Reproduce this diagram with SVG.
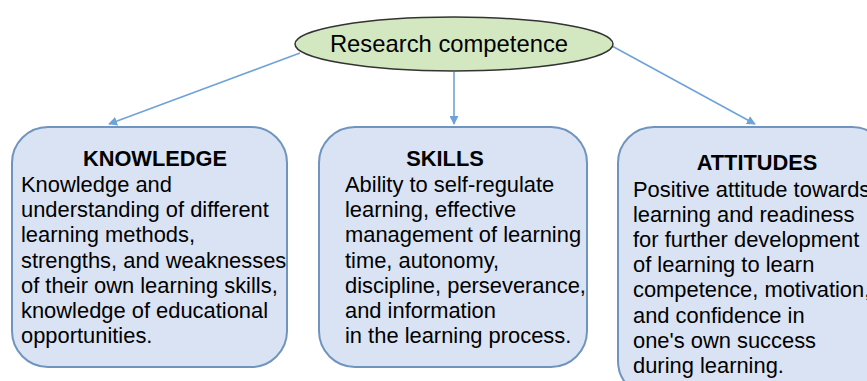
<svg xmlns="http://www.w3.org/2000/svg" width="867" height="381" viewBox="0 0 867 381">
<defs>
<marker id="ah" viewBox="0 0 10 10" refX="9" refY="5" markerWidth="9" markerHeight="9" markerUnits="userSpaceOnUse" orient="auto">
<path d="M0,0 L10,5 L0,10 z" fill="#6fa3d8"/>
</marker>
</defs>
<style>
.box{fill:#dae3f3;stroke:#6f94be;stroke-width:2}
.ell{fill:#d3e8c0;stroke:#333;stroke-width:1.5}
.con{stroke:#6fa3d8;stroke-width:1.6;fill:none;marker-end:url(#ah)}
.hd{font-family:"Liberation Sans",Arial,sans-serif;font-weight:bold;font-size:21.8px;fill:#000;text-anchor:middle}
.bd{font-family:"Liberation Sans",Arial,sans-serif;font-size:21.9px;fill:#000}
.tt{font-family:"Liberation Sans",Arial,sans-serif;font-size:23.8px;fill:#000;text-anchor:middle}
</style>
<rect width="867" height="381" fill="#fff"/>
<g id="connectors">
<line class="con" x1="300" y1="53" x2="109" y2="124"/>
<line class="con" x1="454" y1="72" x2="454" y2="124"/>
<line class="con" x1="612" y1="46" x2="755" y2="124"/>
</g>
<g id="root">
<ellipse class="ell" cx="454" cy="44" rx="159" ry="27"/>
<text class="tt" x="449" y="52">Research competence</text>
</g>
<g id="knowledge">
<rect class="box" x="12" y="127" width="275" height="240" rx="36"/>
<text class="hd" x="155" y="166">KNOWLEDGE</text>
<text class="bd" x="21" y="192">Knowledge and</text>
<text class="bd" x="21" y="217.2">understanding of different</text>
<text class="bd" x="21" y="242.4">learning methods,</text>
<text class="bd" x="21" y="267.6">strengths, and weaknesses</text>
<text class="bd" x="21" y="292.8">of their own learning skills,</text>
<text class="bd" x="21" y="318">knowledge of educational</text>
<text class="bd" x="21" y="343">opportunities.</text>
</g>
<g id="skills">
<rect class="box" x="319" y="127" width="268" height="240" rx="36"/>
<text class="hd" x="445" y="166">SKILLS</text>
<text class="bd" x="345" y="192">Ability to self-regulate</text>
<text class="bd" x="345" y="217.2">learning, effective</text>
<text class="bd" x="345" y="242.4">management of learning</text>
<text class="bd" x="345" y="267.6">time, autonomy,</text>
<text class="bd" x="345" y="292.8">discipline, perseverance,</text>
<text class="bd" x="345" y="318">and information</text>
<text class="bd" x="345" y="343">in the learning process.</text>
</g>
<g id="attitudes">
<rect class="box" x="618" y="127" width="270" height="270" rx="36"/>
<text class="hd" x="757" y="170">ATTITUDES</text>
<text class="bd" x="633" y="197">Positive attitude towards</text>
<text class="bd" x="633" y="222.1">learning and readiness</text>
<text class="bd" x="633" y="247.2">for further development</text>
<text class="bd" x="633" y="272.3">of learning to learn</text>
<text class="bd" x="633" y="297.4">competence, motivation,</text>
<text class="bd" x="633" y="322.5">and confidence in</text>
<text class="bd" x="633" y="347.6">one's own success</text>
<text class="bd" x="633" y="373">during learning.</text>
</g>
</svg>
